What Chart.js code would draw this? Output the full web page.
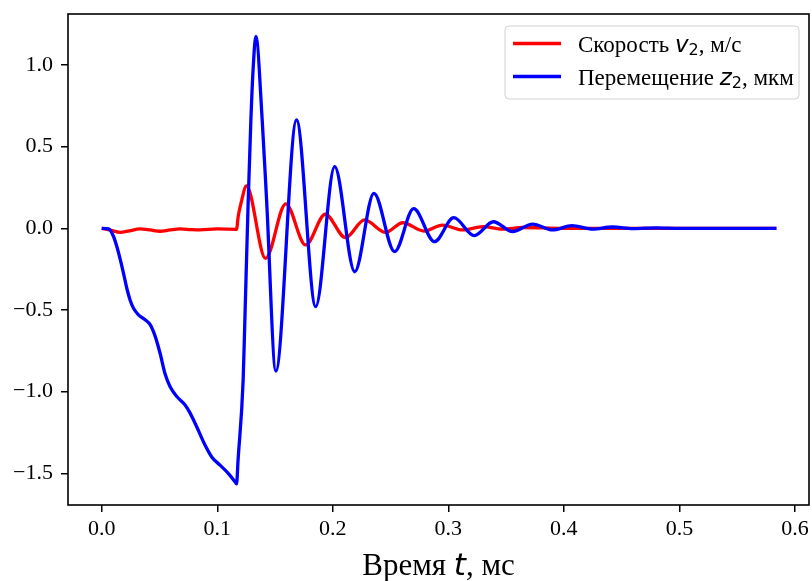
<!DOCTYPE html>
<html>
<head>
<meta charset="utf-8">
<script src="https://cdn.jsdelivr.net/npm/chart.js@4"></script>
<style>
  body { margin: 0; background: #fff; }
  #wrap { width: 812px; height: 581px; }
</style>
</head>
<body>
<div id="wrap"><canvas id="myChart" width="812" height="581"></canvas></div>
<script>
// скорость v2, м/с
const vTime = [0, 0.008, 0.016, 0.024, 0.033, 0.042, 0.0505, 0.059, 0.068, 0.077, 0.085, 0.1, 0.1167,
  0.1181, 0.1205, 0.1253, 0.1418, 0.1593, 0.1765, 0.1935, 0.211, 0.2275, 0.2457, 0.2606, 0.279,
  0.295, 0.312, 0.33, 0.347, 0.365, 0.4, 0.584];
const vValues = [0, -0.012, -0.025, -0.015, -0.004, -0.01, -0.018, -0.01, -0.004, -0.008, -0.01, -0.004, -0.006,
  0.071, 0.153, 0.259, -0.184, 0.15, -0.102, 0.086, -0.057, 0.051, -0.025, 0.034, -0.017,
  0.02, -0.01, 0.01, -0.005, 0.005, 0, 0];

// перемещение z2, мкм
const zTime = [0, 0.006, 0.0102, 0.013, 0.016, 0.019, 0.0218, 0.0246, 0.0275, 0.0318, 0.0376, 0.0419,
  0.0462, 0.0505, 0.0548, 0.0592, 0.065, 0.072, 0.0764, 0.0822, 0.0894, 0.0952, 0.1024, 0.1095,
  0.1155, 0.1167, 0.118, 0.1224, 0.1239, 0.1268, 0.1291, 0.131, 0.1334, 0.1389, 0.1427, 0.1507,
  0.1686, 0.1852, 0.2016, 0.219, 0.2356, 0.2535, 0.27, 0.288, 0.3047, 0.3225, 0.339, 0.3556,
  0.373, 0.39, 0.407, 0.425, 0.442, 0.46, 0.48, 0.5, 0.584];
const zValues = [0, -0.004, -0.05, -0.11, -0.19, -0.28, -0.37, -0.44, -0.49, -0.53, -0.56, -0.59,
  -0.66, -0.765, -0.89, -0.97, -1.03, -1.08, -1.13, -1.215, -1.327, -1.4, -1.45, -1.5,
  -1.553, -1.565, -1.42, -0.93, -0.56, 0.173, 0.663, 0.97, 1.175, 0.663, 0.173, -0.874,
  0.663, -0.48, 0.377, -0.266, 0.214, -0.143, 0.12, -0.082, 0.065, -0.045, 0.04, -0.02,
  0.026, -0.01, 0.016, -0.005, 0.008, -0.002, 0.003, 0, 0];

const xTicks = [0, 0.1, 0.2, 0.3, 0.4, 0.5, 0.6];
const yTicks = [-1.5, -1.0, -0.5, 0, 0.5, 1.0];

const SERIF = '"Liberation Serif", "Times New Roman", serif';
const MATH = '"DejaVu Sans", sans-serif';

function toPoints(ts, vs) {
  return ts.map((t, i) => ({ x: t, y: vs[i] }));
}

function fmt(v) {
  return (v < 0 ? "\u2212" : "") + Math.abs(v).toFixed(1);
}

function drawMixed(ctx, parts, x, y) {
  parts.forEach((p) => {
    ctx.font = p.font;
    ctx.fillText(p.text, x, y + (p.dy || 0));
    x += ctx.measureText(p.text).width;
  });
  return x;
}

function mixedWidth(ctx, parts) {
  let w = 0;
  parts.forEach((p) => {
    ctx.font = p.font;
    w += ctx.measureText(p.text).width;
  });
  return w;
}

const extras = {
  id: "extras",
  afterDraw(chart) {
    const ctx = chart.ctx;
    const a = chart.chartArea;
    ctx.save();
    // рамка
    ctx.strokeStyle = "#000";
    ctx.lineWidth = 1.6;
    ctx.strokeRect(a.left, a.top, a.right - a.left, a.bottom - a.top);

    // легенда
    const bx = 505, by = 26, bw = 294, bh = 73, r = 4;
    ctx.beginPath();
    ctx.roundRect(bx, by, bw, bh, r);
    ctx.fillStyle = "rgba(255,255,255,0.8)";
    ctx.fill();
    ctx.strokeStyle = "#d0d0d0";
    ctx.lineWidth = 1;
    ctx.stroke();

    const rows = [
      { color: "#ff0000", y: 43.5, parts: [
        { text: "Скорость ", font: "23px " + SERIF },
        { text: "v", font: "italic 23px " + MATH },
        { text: "2", font: "16px " + MATH, dy: 3 },
        { text: ", м/с", font: "23px " + SERIF },
      ] },
      { color: "#0000ff", y: 76.5, parts: [
        { text: "Перемещение ", font: "23px " + SERIF },
        { text: "z", font: "italic 23px " + MATH },
        { text: "2", font: "16px " + MATH, dy: 3 },
        { text: ", мкм", font: "23px " + SERIF },
      ] },
    ];
    rows.forEach((row) => {
      ctx.strokeStyle = row.color;
      ctx.lineWidth = 3.3;
      ctx.beginPath();
      ctx.moveTo(513, row.y);
      ctx.lineTo(561, row.y);
      ctx.stroke();
      ctx.fillStyle = "#000";
      ctx.textBaseline = "alphabetic";
      drawMixed(ctx, row.parts, 578, row.y + 8);
    });

    // подпись оси x
    const title = [
      { text: "Время ", font: "31px " + SERIF },
      { text: "t", font: "italic 31px " + MATH },
      { text: ", мс", font: "31px " + SERIF },
    ];
    const tw = mixedWidth(ctx, title);
    drawMixed(ctx, title, (a.left + a.right) / 2 - tw / 2, 575);
    ctx.restore();
  },
};

const ctx = document.getElementById("myChart").getContext("2d");
const chart = new Chart(ctx, {
  type: "line",
  data: {
    datasets: [
      {
        label: "Скорость v2, м/с",
        data: toPoints(vTime, vValues),
        borderColor: "#ff0000",
        borderWidth: 3.3,
        pointRadius: 0,
        cubicInterpolationMode: "monotone",
        fill: false,
        order: 1,
      },
      {
        label: "Перемещение z2, мкм",
        data: toPoints(zTime, zValues),
        borderColor: "#0000ff",
        borderWidth: 3.3,
        pointRadius: 0,
        cubicInterpolationMode: "monotone",
        fill: false,
        order: 0,
      },
    ],
  },
  options: {
    responsive: false,
    animation: false,
    layout: { padding: { left: 0, top: 14, right: 3, bottom: 0 } },
    plugins: { legend: { display: false }, tooltip: { enabled: false } },
    scales: {
      x: {
        type: "linear",
        min: -0.0292,
        max: 0.6122,
        afterBuildTicks: (scale) => {
          scale.ticks = xTicks.map((v) => ({ value: v }));
        },
        afterFit: (scale) => {
          scale.height = 76;
          scale.paddingLeft = 0;
          scale.paddingRight = 0;
        },
        grid: { drawOnChartArea: false, drawTicks: true, tickLength: 7, color: "#000", lineWidth: 1.5 },
        border: { display: false },
        ticks: {
          padding: 4,
          color: "#000",
          maxRotation: 0,
          autoSkip: false,
          font: { family: SERIF, size: 22 },
          callback: (v) => fmt(v),
        },
      },
      y: {
        min: -1.694,
        max: 1.312,
        afterBuildTicks: (scale) => {
          scale.ticks = yTicks.map((v) => ({ value: v }));
        },
        afterFit: (scale) => {
          scale.width = 68;
          scale.paddingTop = 0;
          scale.paddingBottom = 0;
        },
        grid: { drawOnChartArea: false, drawTicks: true, tickLength: 7, color: "#000", lineWidth: 1.5 },
        border: { display: false },
        ticks: {
          padding: 8,
          color: "#000",
          autoSkip: false,
          font: { family: SERIF, size: 22 },
          callback: (v) => fmt(v),
        },
      },
    },
  },
  plugins: [extras],
});
</script>
</body>
</html>
